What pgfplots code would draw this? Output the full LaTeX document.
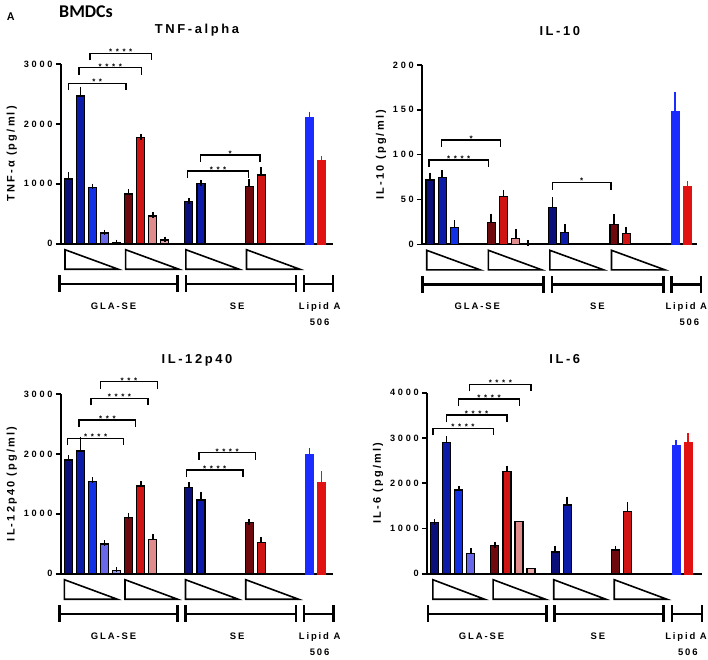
\documentclass[border=0pt]{standalone}
\usepackage{fontspec}
\setmainfont{Liberation Sans}[LetterSpace=20, BoldFont={Liberation Sans Bold}]
\newfontfamily\tickfont{Liberation Sans}[LetterSpace=30, BoldFont={Liberation Sans Bold}]
\newfontfamily\starfont{Liberation Sans}[LetterSpace=45, BoldFont={Liberation Sans Bold}]
\newfontfamily\hdrfont{Carlito}
\usepackage{pgfplots}
\pgfplotsset{compat=1.18}

\definecolor{bA}{HTML}{0B0F7A}
\definecolor{bB}{HTML}{0D1CA8}
\definecolor{bC}{HTML}{1230E6}
\definecolor{bD}{HTML}{6868E8}
\definecolor{bE}{HTML}{9A9AF0}
\definecolor{rA}{HTML}{6E0A0E}
\definecolor{rB}{HTML}{D01414}
\definecolor{rC}{HTML}{E08C8C}
\definecolor{rD}{HTML}{E8A8A8}
\definecolor{lB}{HTML}{1A2CFF}
\definecolor{lR}{HTML}{E01212}

\pgfplotsset{
 panel/.style={
   scale only axis, axis lines=left, axis line style={-, line width=2bp, black},
   clip=false, xtick=\empty, ymin=0,
   tick align=outside, major tick length=5bp, ytick style={line width=1.6bp, black},
   yticklabel style={font=\tickfont\bfseries\fontsize{9.2}{11}\selectfont},
   /pgf/number format/assume math mode=true, /pgf/number format/1000 sep={},
   ylabel style={font=\bfseries\fontsize{11}{13}\selectfont},
   title style={font=\bfseries\fontsize{13}{15}\selectfont, at={(0.5,1)}, anchor=center, yshift=28bp},
   anchor=south west,
 },
 b/.style={ybar, bar width=8bp, bar shift=0pt, fill=#1, draw=black, line width=1.2bp,
   error bars/.cd, y dir=plus, y explicit, error bar style={line width=1.7bp, black},
   error mark options={line width=1.7bp, black, mark size=2.8bp}},
 nb/.style={ybar, bar width=8bp, bar shift=0pt, fill=#1, draw=black, line width=1.2bp},
 lb/.style={ybar, bar width=8bp, bar shift=0pt, fill=#1, draw=#1, line width=0.4bp,
   error bars/.cd, y dir=plus, y explicit, error bar style={line width=1.7bp, #1},
   error mark options={line width=1.7bp, #1, mark size=2.8bp}},
}

\newcommand{\tri}[2]{\draw[line width=1.6bp, line join=miter] ([yshift=-6bp]axis cs:#1,0) -- ([yshift=-25.5bp]axis cs:#1,0) -- ([yshift=-25.5bp]axis cs:#2,0) -- cycle;}
\newcommand{\grp}[2]{\draw[line width=2.4bp] ([yshift=-40bp]axis cs:#1,0) -- ([yshift=-40bp]axis cs:#2,0);
 \draw[line width=2.4bp] ([yshift=-31.5bp]axis cs:#1,0) -- ([yshift=-48.5bp]axis cs:#1,0);
 \draw[line width=2.4bp] ([yshift=-31.5bp]axis cs:#2,0) -- ([yshift=-48.5bp]axis cs:#2,0);}
\newcommand{\sig}[4]{\draw[line width=1.3bp] ([yshift=-7bp]axis cs:#1,#3) -- (axis cs:#1,#3) -- node[midway, anchor=south, inner sep=0pt, yshift=-2bp, font=\starfont\bfseries\fontsize{8}{8}\selectfont] {#4} (axis cs:#2,#3) -- ([yshift=-7bp]axis cs:#2,#3);}
\newcommand{\glab}[4]{%
 \node[anchor=base, font=\bfseries\fontsize{9.5}{11}\selectfont, inner sep=0pt] at ([yshift=-65.5bp]axis cs:#1,0) {GLA-SE};
 \node[anchor=base, font=\bfseries\fontsize{9.5}{11}\selectfont, inner sep=0pt] at ([yshift=-65.5bp]axis cs:#2,0) {SE};
 \node[anchor=base, font=\bfseries\fontsize{9.5}{11}\selectfont, inner sep=0pt] at ([yshift=-65.5bp]axis cs:#3,0) {Lipid A};
 \node[anchor=base, font=\bfseries\fontsize{9.5}{11}\selectfont, inner sep=0pt] at ([yshift=-81.5bp]axis cs:#4,0) {506};}

\begin{document}
\begin{tikzpicture}
\useasboundingbox (0,0) rectangle (708bp,-660bp);
\node[anchor=west, font=\hdrfont\bfseries\fontsize{18}{20}\selectfont, inner sep=0pt] at (59bp,-12bp) {BMDCs};
\node[anchor=west, font=\hdrfont\bfseries\fontsize{12}{14}\selectfont, inner sep=0pt] at (7bp,-17bp) {A};

% ---------------- TNF-alpha
\begin{axis}[panel, at={(61bp,-243.7bp)}, width=272bp, height=179.7bp,
  xmin=-0.61, xmax=21.96, ymax=3000, ytick={0,1000,2000,3000},
  title={TNF-alpha}, ylabel={TNF-α (pg/ml)}]
\addplot[b=bA] coordinates {(0,1080) +- (0,65) (10,707) +- (0,10)};
\addplot[b=bB] coordinates {(1,2465) +- (0,110) (11,1002) +- (0,10)};
\addplot[b=bC] coordinates {(2,940) +- (0,15)};
\addplot[b=bD] coordinates {(3,178) +- (0,10)};
\addplot[b=bE] coordinates {(4,15) +- (0,5)};
\addplot[b=rA] coordinates {(5,830) +- (0,40) (15,957) +- (0,75)};
\addplot[b=rB] coordinates {(6,1770) +- (0,15) (16,1146) +- (0,80)};
\addplot[b=rC] coordinates {(7,462) +- (0,20)};
\addplot[b=rD] coordinates {(8,61) +- (0,12)};
\addplot[lb=lB] coordinates {(20,2109) +- (0,50)};
\addplot[lb=lR] coordinates {(21,1397) +- (0,15)};
\sig{0}{4.78}{2677}{**}
\sig{0.88}{6.08}{2938}{****}
\sig{1.8}{6.9}{3177}{****}
\sig{9.9}{14.95}{1215}{***}
\sig{10.95}{15.9}{1481}{*}
\tri{-0.28}{4.14}\tri{4.75}{9.17}\tri{9.75}{14.17}\tri{14.78}{19.2}
\grp{-0.75}{9.06}\grp{9.77}{18.88}\grp{19.53}{21.96}
\glab{3.75}{14.0}{20.85}{20.85}
\end{axis}

% ---------------- IL-10
\begin{axis}[panel, at={(422.3bp,-244.3bp)}, width=275bp, height=179.3bp,
  xmin=-0.63, xmax=21.8, ymax=200, ytick={0,50,100,150,200},
  title={IL-10}, ylabel={IL-10 (pg/ml)}]
\addplot[b=bA] coordinates {(0,71.7) +- (0,5) (10,40.9) +- (0,8.5)};
\addplot[b=bB] coordinates {(1,74.7) +- (0,5) (11,13.4) +- (0,5.6)};
\addplot[b=bC] coordinates {(2,18.6) +- (0,5.5)};
\addplot[b=rA] coordinates {(5,24.2) +- (0,7) (15,22.3) +- (0,8.5)};
\addplot[b=rB] coordinates {(6,53.2) +- (0,4.5) (16,12.3) +- (0,4.4)};
\addplot[b=rC] coordinates {(7,6.3) +- (0,7.5)};
\addplot[b=rD] coordinates {(8,0.8) +- (0,0.8)};
\addplot[lb=lB] coordinates {(20,149) +- (0,17.5)};
\addplot[lb=lR] coordinates {(21,64.3) +- (0,2.7)};
\sig{-0.08}{4.77}{94}{****}
\sig{0.93}{5.77}{116.4}{*}
\sig{10}{14.75}{68.8}{*}
\tri{-0.27}{4.08}\tri{4.76}{9.11}\tri{9.77}{14.15}\tri{14.8}{19.15}
\grp{-0.63}{9.25}\grp{9.93}{19.04}\grp{19.7}{22.09}
\glab{3.86}{13.66}{20.9}{21.15}
\end{axis}

% ---------------- IL-12p40
\begin{axis}[panel, at={(61bp,-573.7bp)}, width=272bp, height=179.7bp,
  xmin=-0.61, xmax=21.96, ymax=3000, ytick={0,1000,2000,3000},
  title={IL-12p40}, ylabel={IL-12p40 (pg/ml)}]
\addplot[b=bA] coordinates {(0,1898) +- (0,40) (10,1436) +- (0,45)};
\addplot[b=bB] coordinates {(1,2048) +- (0,195) (11,1230) +- (0,95)};
\addplot[b=bC] coordinates {(2,1536) +- (0,28)};
\addplot[b=bD] coordinates {(3,495) +- (0,20)};
\addplot[b=bE] coordinates {(4,50) +- (0,20)};
\addplot[b=rA] coordinates {(5,935) +- (0,33) (15,851) +- (0,15)};
\addplot[b=rB] coordinates {(6,1464) +- (0,33) (16,518) +- (0,45)};
\addplot[b=rC] coordinates {(7,573) +- (0,45)};
\addplot[lb=lB] coordinates {(20,1998) +- (0,55)};
\addplot[lb=lR] coordinates {(21,1536) +- (0,128)};
\sig{-0.06}{4.6}{2259}{****}
\sig{0.88}{5.6}{2565}{***}
\sig{1.87}{6.62}{2927}{****}
\sig{2.68}{7.38}{3205}{***}
\sig{9.8}{14.5}{1731}{****}
\sig{10.83}{15.53}{2020}{****}
\tri{-0.33}{4.06}\tri{4.7}{9.06}\tri{9.72}{14.1}\tri{14.72}{19.1}
\grp{-0.75}{9.06}\grp{9.72}{18.87}\grp{19.56}{22.0}
\glab{3.75}{14.0}{20.85}{20.85}
\end{axis}

% ---------------- IL-6
\begin{axis}[panel, at={(427.3bp,-573.7bp)}, width=275bp, height=181bp,
  xmin=-0.6, xmax=22.2, ymax=4000, ytick={0,1000,2000,3000,4000},
  title={IL-6}, ylabel={IL-6 (pg/ml)}]
\addplot[b=bA] coordinates {(0,1127) +- (0,22) (10,479) +- (0,73)};
\addplot[b=bB] coordinates {(1,2895) +- (0,80) (11,1517) +- (0,125)};
\addplot[b=bC] coordinates {(2,1849) +- (0,30)};
\addplot[b=bD] coordinates {(3,449) +- (0,50)};
\addplot[b=rA] coordinates {(5,619) +- (0,22) (15,523) +- (0,37)};
\addplot[b=rB] coordinates {(6,2254) +- (0,74) (16,1370) +- (0,147)};
\addplot[nb=rC] coordinates {(7,1149)};
\addplot[nb=rD] coordinates {(8,110)};
\addplot[lb=lB] coordinates {(20,2843) +- (0,59)};
\addplot[lb=lR] coordinates {(21,2917) +- (0,125)};
\sig{-0.14}{4.86}{3212}{****}
\sig{0.97}{6.0}{3506}{****}
\sig{2.0}{7.04}{3860}{****}
\sig{2.92}{8.0}{4184}{****}
\tri{-0.14}{4.14}\tri{4.86}{9.19}\tri{9.88}{14.2}\tri{14.9}{19.26}
\grp{-0.55}{9.27}\grp{9.96}{18.98}\grp{19.67}{22.16}
\glab{3.9}{13.55}{20.85}{21.0}
\end{axis}
\end{tikzpicture}
\end{document}
